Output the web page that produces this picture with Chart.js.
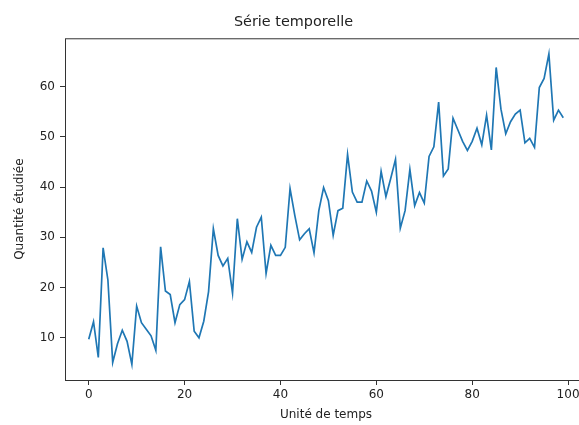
<!DOCTYPE html>
<html>
<head>
<meta charset="utf-8">
<script src="https://cdn.jsdelivr.net/npm/chart.js@4.4.1/dist/chart.umd.min.js"></script>
<style>
  html, body { margin: 0; padding: 0; background: #fff; overflow: hidden; }
  #wrap { width: 652px; height: 425px; }
</style>
</head>
<body>
<div id="wrap"><canvas id="serie"></canvas></div>
<script>
// données
const temps = [
  0, 1, 2, 3, 4, 5, 6, 7, 8, 9,
  10, 11, 12, 13, 14, 15, 16, 17, 18, 19,
  20, 21, 22, 23, 24, 25, 26, 27, 28, 29,
  30, 31, 32, 33, 34, 35, 36, 37, 38, 39,
  40, 41, 42, 43, 44, 45, 46, 47, 48, 49,
  50, 51, 52, 53, 54, 55, 56, 57, 58, 59,
  60, 61, 62, 63, 64, 65, 66, 67, 68, 69,
  70, 71, 72, 73, 74, 75, 76, 77, 78, 79,
  80, 81, 82, 83, 84, 85, 86, 87, 88, 89,
  90, 91, 92, 93, 94, 95, 96, 97, 98, 99
];
const quantite = [
  9.7, 13.2, 6.1, 27.9, 21.5, 5.1, 8.8, 11.5, 9.3, 4.7,
  16.3, 13.0, 11.7, 10.4, 7.5, 28.1, 19.3, 18.6, 13.0, 16.6,
  17.6, 21.2, 11.3, 10.0, 13.3, 19.2, 31.7, 26.4, 24.3, 25.8,
  18.9, 33.7, 25.6, 29.1, 27.0, 32.0, 34.0, 22.8, 28.4, 26.4,
  26.4, 28.0, 39.7, 34.3, 29.5, 30.7, 31.7, 26.9, 35.3, 39.9,
  37.3, 30.4, 35.3, 35.8, 46.5, 39.0, 37.0, 37.0, 41.2, 39.2,
  35.0, 43.1, 38.1, 41.7, 45.5, 31.8, 35.3, 43.5, 36.3, 38.9,
  36.8, 46.1, 48.0, 56.9, 42.2, 43.6, 53.7, 51.4, 49.1, 47.3,
  49.1, 51.7, 48.4, 54.3, 47.4, 63.8, 55.5, 50.6, 53.0, 54.5,
  55.3, 48.8, 49.7, 47.9, 59.8, 61.6, 66.5, 53.3, 55.3, 53.8
];
const ticksX = [0, 20, 40, 60, 80, 100];
const ticksY = [10, 20, 30, 40, 50, 60];

const police = "'DejaVu Sans', sans-serif";
const encre = "#222";

// cadre autour de la zone de tracé
const cadre = {
  id: "cadre",
  afterDraw(chart) {
    const { ctx, chartArea: a } = chart;
    ctx.save();
    ctx.strokeStyle = "#333";
    ctx.lineWidth = 1;
    ctx.strokeRect(a.left + 0.5, a.top + 0.5, a.right - a.left, a.bottom - a.top);
    ctx.restore();
  }
};

new Chart(document.getElementById("serie"), {
  type: "line",
  data: {
    datasets: [{
      data: temps.map((t, i) => ({ x: t, y: quantite[i] })),
      borderColor: "#1f77b4",
      borderWidth: 1.7,
      pointRadius: 0,
      tension: 0,
      fill: false
    }]
  },
  options: {
    responsive: true,
    maintainAspectRatio: false,
    animation: false,
    layout: { padding: { left: 0, right: 65, top: 0, bottom: 0 } },
    plugins: {
      legend: { display: false },
      tooltip: { enabled: false },
      title: {
        display: true,
        text: "Série temporelle",
        color: encre,
        font: { family: police, size: 14.4, weight: "normal" },
        padding: { top: 14, bottom: 7 }
      }
    },
    scales: {
      x: {
        type: "linear",
        min: -4.95,
        max: 103.95,
        afterBuildTicks: s => { s.ticks = ticksX.map(v => ({ value: v })); },
        afterFit: s => { s.height = 45; },
        grid: { drawOnChartArea: false, drawTicks: true, tickLength: 5, color: "#333" },
        border: { display: false },
        ticks: { color: encre, font: { family: police, size: 12 }, padding: 3, maxRotation: 0 },
        title: {
          display: true,
          text: "Unité de temps",
          color: encre,
          font: { family: police, size: 12 },
          padding: { top: 0, bottom: 3 }
        }
      },
      y: {
        type: "linear",
        min: 1.6,
        max: 69.6,
        afterBuildTicks: s => { s.ticks = ticksY.map(v => ({ value: v })); },
        afterFit: s => { s.width = 65; },
        grid: { drawOnChartArea: false, drawTicks: true, tickLength: 5, color: "#333" },
        border: { display: false },
        ticks: { color: encre, font: { family: police, size: 12 }, padding: 5 },
        title: {
          display: true,
          text: "Quantité étudiée",
          color: encre,
          font: { family: police, size: 12 },
          padding: { top: 13, bottom: 0 }
        }
      }
    }
  },
  plugins: [cadre]
});
</script>
</body>
</html>
